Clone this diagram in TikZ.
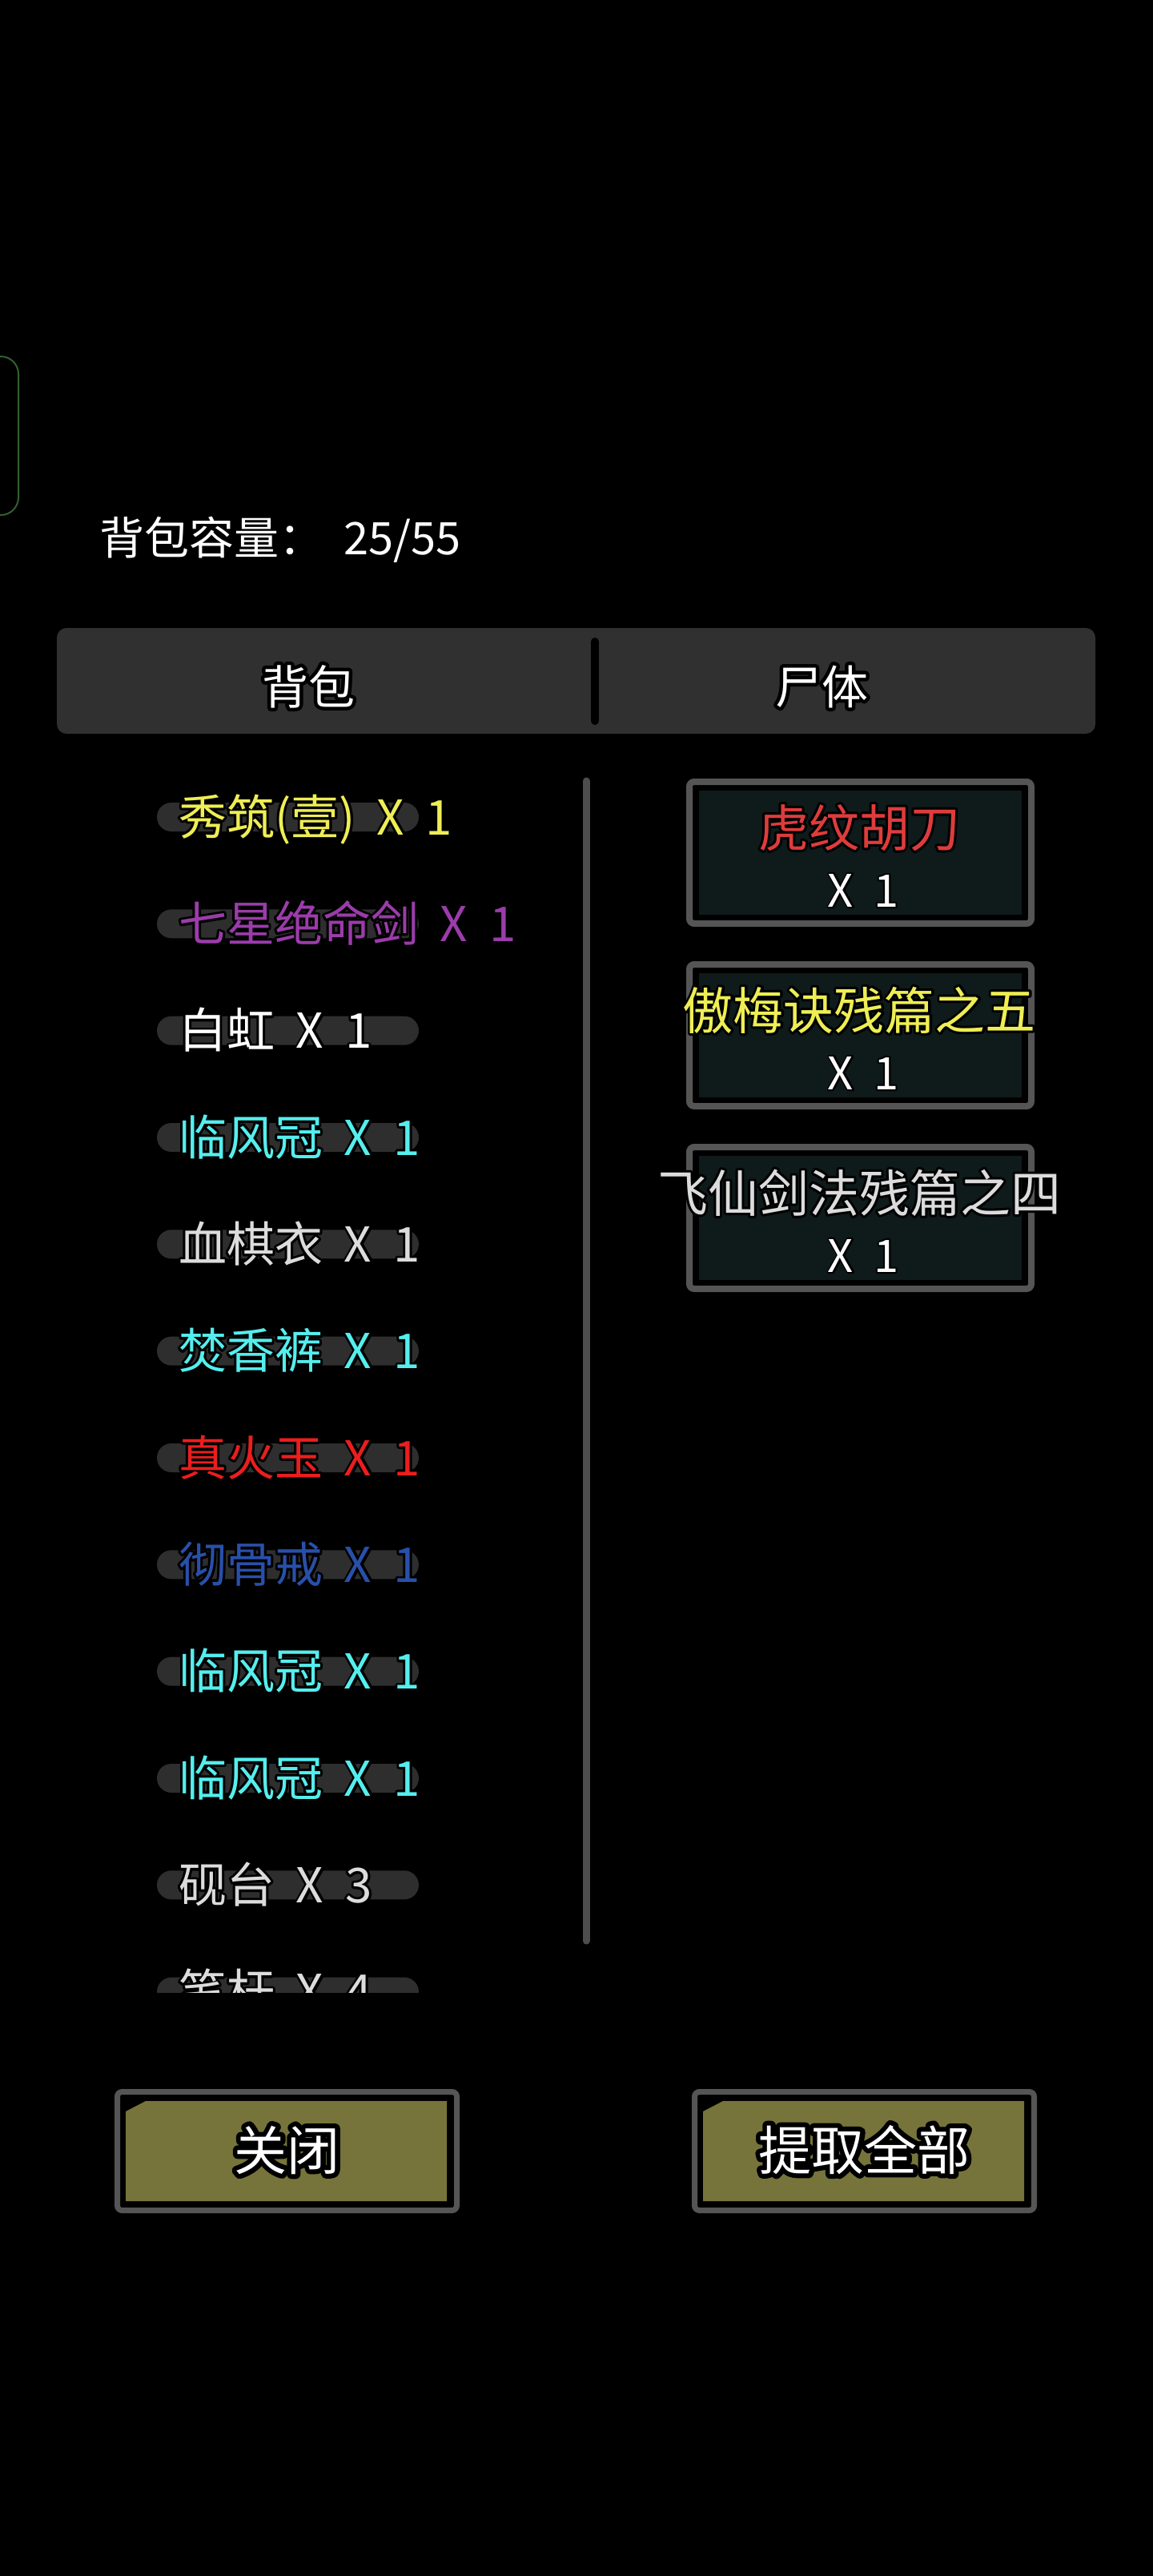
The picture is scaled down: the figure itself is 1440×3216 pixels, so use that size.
\documentclass[tikz,border=0pt]{standalone}
\usepackage{fontspec}
\setmainfont[WordSpace=2]{Noto Sans CJK SC}
\definecolor{tabc}{HTML}{303030}
\definecolor{pillc}{HTML}{2E2E2E}
\definecolor{boxgrey}{HTML}{555555}
\definecolor{boxfill}{HTML}{0F1A1A}
\definecolor{btnfill}{RGB}{118,116,58}
\definecolor{scrollc}{HTML}{4D4D4D}
\definecolor{sidegreen}{RGB}{50,95,50}
\definecolor{cYel}{RGB}{238,238,85}
\definecolor{cPur}{RGB}{155,60,170}
\definecolor{cCyan}{RGB}{85,238,238}
\definecolor{cWhite}{RGB}{255,255,255}
\definecolor{cLgrey}{RGB}{220,220,220}
\definecolor{cRed}{RGB}{235,30,30}
\definecolor{cBlue}{RGB}{40,80,170}
\definecolor{cRedB}{RGB}{222,60,60}
% outlined text: #1 stroke width (2 x outline), #2 colour, #3 text
\newcommand\olt[3]{\rlap{\color{black}\special{pdf:literal direct 1 Tr #1 w 1 j 0 G}#3\special{pdf:literal direct 0 Tr}}{\color{#2}#3}}
\newcommand\fsz[1]{\fontsize{#1}{#1}\selectfont}
\tikzset{
  lbl/.style={inner sep=0pt, outer sep=0pt},
  pillbox/.style={fill=pillc, rounded corners=18pt},
  itembox/.style={draw=boxgrey, line width=8pt, rounded corners=6pt},
  btnframe/.style={draw=boxgrey, line width=7pt, rounded corners=6pt},
}
\begin{document}
\begin{tikzpicture}[x=1pt,y=-1pt]
\fill[black] (0,0) rectangle (1440,3216);
\useasboundingbox (0,0) rectangle (1440,3216);
% side tab
\draw[sidegreen, line width=2pt, rounded corners=22pt] (-40,445) rectangle (23,643);
% capacity
\node[lbl, anchor=base west, text=white, font=\fsz{56}] (cap) at (124,692) {背包容量： 25/55};
% tab bar
\fill[tabc, rounded corners=12pt] (71,784) rectangle (1368,916);
\draw[black, line width=10pt, line cap=round] (743,801) -- (743,900);
\node[lbl, anchor=base, font=\fsz{58}] (tabA) at (385,879) {\olt{9}{white}{背包}};
\node[lbl, anchor=base, font=\fsz{58}] (tabB) at (1026,879) {\olt{9}{white}{尸体}};
% scrollbar
\draw[scrollc, line width=9pt, line cap=round] (732,975) -- (732,2423);
% list
\begin{scope}
\clip (0,950) rectangle (725,2487);
\foreach \i/\c/\t in {0/cYel/{秀筑(壹) X 1},1/cPur/{七星绝命剑 X 1},2/cWhite/{白虹 X 1},
  3/cCyan/{临风冠 X 1},4/cLgrey/{血棋衣 X 1},5/cCyan/{焚香裤 X 1},6/cRed/{真火玉 X 1},
  7/cBlue/{彻骨戒 X 1},8/cCyan/{临风冠 X 1},9/cCyan/{临风冠 X 1},10/cLgrey/{砚台 X 3},
  11/cLgrey/{笔杆 X 4}}{
  \pgfmathsetmacro\yc{1019+133.33*\i}
  \fill[pillbox] (196,\yc-17) rectangle (523,\yc+19);
  \node[lbl, anchor=base west, font=\fsz{60}] (item\i) at (223,\yc+23) {\olt{6}{\c}{\t}};
}
\end{scope}
% corpse items
\foreach \i/\c/\t in {0/cRedB/虎纹胡刀,1/cYel/傲梅诀残篇之五,2/cLgrey/飞仙剑法残篇之四}{
  \pgfmathsetmacro\yt{972+228*\i}
  \draw[itembox] (861,\yt+4) rectangle (1288,\yt+181);
  \fill[boxfill] (873,\yt+15) rectangle (1276,\yt+170);
  \node[lbl, anchor=base, font=\fsz{63}] (nm\i) at (1073,\yt+85) {\olt{6}{\c}{\t}};
  \node[lbl, anchor=base, font=\fsz{56}] (qt\i) at (1078,\yt+160) {\olt{4}{white}{X 1}};
}
% buttons
\foreach \i/\x/\t in {0/143/关闭,1/864/提取全部}{
  \draw[btnframe] (\x+3.5,2611.5) rectangle (\x+427.5,2759.5);
  \fill[btnfill] (\x+14,2636) -- (\x+39,2623) -- (\x+415,2623) -- (\x+415,2748) -- (\x+14,2748) -- cycle;
  \node[lbl, anchor=base, font=\fsz{66}] (btn\i) at (\x+215.5,2709) {\olt{12}{white}{\t}};
}
\end{tikzpicture}
\end{document}
